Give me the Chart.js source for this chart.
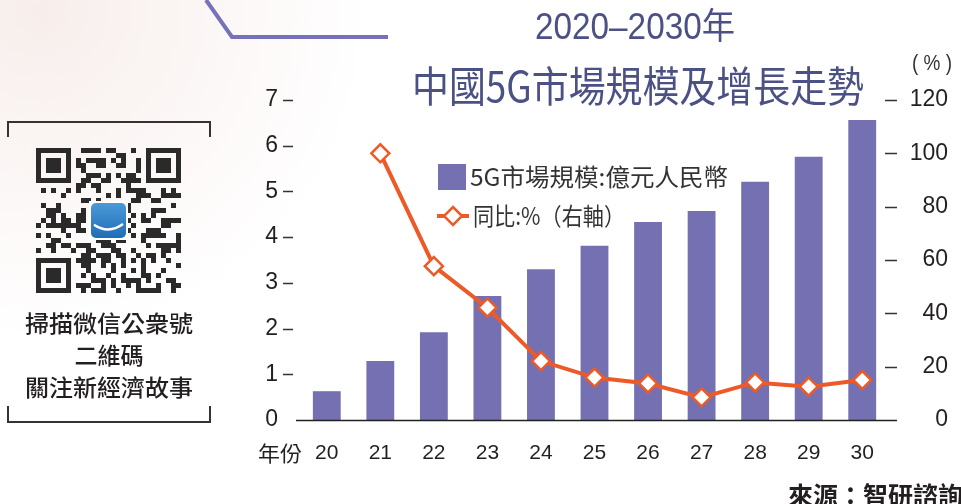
<!DOCTYPE html>
<html>
<head>
<meta charset="utf-8">
<script src="https://cdn.jsdelivr.net/npm/chart.js"></script>
<style>
html, body { margin: 0; padding: 0; background: #fff; }
#wrap { position: relative; width: 961px; height: 504px; }
</style>
</head>
<body>
<div id="wrap"><canvas id="grafico5G" width="961" height="504"></canvas></div>
<script>
// datos
const anios = ['20', '21', '22', '23', '24', '25', '26', '27', '28', '29', '30'];
const mercado5G = [0.63, 1.29, 1.92, 2.71, 3.30, 3.81, 4.33, 4.57, 5.21, 5.76, 6.56];
const crecimiento = [null, 100, 57.7, 42.1, 22.1, 15.9, 13.7, 8.5, 14.1, 12.5, 15.0];
const etiquetaBarras = '5G市場規模:億元人民幣';
const etiquetaLinea = '同比:%（右軸）';

const colorBarra = '#7470b2';
const colorLinea = '#ee5a27';
const colorTitulo = '#4b5184';
const colorTexto = '#231f20';
const fuenteCJK = "'Noto Sans CJK TC', 'Noto Sans CJK SC', sans-serif";

function texto(ctx, str, x, y, font, color, ancho, align) {
    ctx.save();
    ctx.font = font;
    ctx.fillStyle = color;
    ctx.textBaseline = 'middle';
    ctx.textAlign = align || 'left';
    const w = ctx.measureText(str).width;
    const sx = ancho ? ancho / w : 1;
    ctx.translate(x, y);
    ctx.scale(sx, 1);
    ctx.fillText(str, 0, 0);
    ctx.restore();
}

function dibujarQR(ctx, x0, y0, m) {
    const n = 29;
    const finder = (i, j, oi, oj) => {
        const a = i - oi, b = j - oj;
        if (a < 0 || b < 0 || a > 6 || b > 6) return null;
        const d = Math.max(Math.abs(a - 3), Math.abs(b - 3));
        return d !== 2;
    };
    ctx.fillStyle = '#2a2a2a';
    for (let i = 0; i < n; i++) {
        for (let j = 0; j < n; j++) {
            let on = finder(i, j, 0, 0);
            if (on === null) on = finder(i, j, 22, 0);
            if (on === null) on = finder(i, j, 0, 22);
            if (on === null) {
                if ((i === 7 || j === 7) && (i < 8 && j < 8)) on = false;
                else if ((i === 21 && j < 8) || (j === 21 && i < 8) || (i === 7 && j > 21) || (j === 7 && i > 21)) on = false;
                else {
                    const h = (Math.imul(i + 3, 73856093) ^ Math.imul(j + 7, 19349663)) >>> 0;
                    on = ((h >>> 9) % 5) < 2;
                }
            }
            if (on) ctx.fillRect(x0 + j * m, y0 + i * m, m, m);
        }
    }
    // logo central
    const lx = x0 + 11 * m, ly = y0 + 11 * m, ls = 7 * m;
    ctx.fillStyle = '#fff';
    ctx.fillRect(lx - 2, ly - 2, ls + 4, ls + 4);
    const g = ctx.createLinearGradient(lx, ly, lx, ly + ls);
    g.addColorStop(0, '#4a9ad8');
    g.addColorStop(1, '#1f6db5');
    ctx.fillStyle = g;
    ctx.beginPath();
    ctx.roundRect(lx, ly, ls, ls, 5);
    ctx.fill();
    ctx.strokeStyle = '#fff';
    ctx.lineWidth = 2.5;
    ctx.beginPath();
    ctx.moveTo(lx + 3, ly + ls * 0.62);
    ctx.quadraticCurveTo(lx + ls * 0.5, ly + ls * 0.9, lx + ls - 3, ly + ls * 0.6);
    ctx.stroke();
}

const decoracion = {
    id: 'decoracion',
    beforeDraw(chart) {
        const ctx = chart.ctx;
        ctx.save();
        const fondo = ctx.createRadialGradient(40, 10, 0, 40, 10, 330);
        fondo.addColorStop(0, 'rgba(247,238,235,1)');
        fondo.addColorStop(1, 'rgba(255,255,255,1)');
        ctx.fillStyle = fondo;
        ctx.fillRect(0, 0, chart.width, chart.height);

        // linea morada superior
        ctx.strokeStyle = '#7671b8';
        ctx.lineWidth = 4;
        ctx.beginPath();
        ctx.moveTo(206, 0);
        ctx.lineTo(232, 37);
        ctx.lineTo(388, 37);
        ctx.stroke();

        // recuadro del codigo QR
        ctx.strokeStyle = '#333';
        ctx.lineWidth = 2;
        ctx.beginPath();
        ctx.moveTo(8, 137); ctx.lineTo(8, 122); ctx.lineTo(210, 122); ctx.lineTo(210, 137);
        ctx.moveTo(8, 406); ctx.lineTo(8, 422); ctx.lineTo(210, 422); ctx.lineTo(210, 406);
        ctx.stroke();
        dibujarQR(ctx, 36, 148, 5);
        ctx.restore();

        texto(ctx, '掃描微信公衆號', 109, 323, '500 23px ' + fuenteCJK, colorTexto, 168, 'center');
        texto(ctx, '二維碼', 109, 355, '500 23px ' + fuenteCJK, colorTexto, 0, 'center');
        texto(ctx, '關注新經濟故事', 109, 387, '500 23px ' + fuenteCJK, colorTexto, 168, 'center');
    },
    afterDraw(chart) {
        const ctx = chart.ctx;
        const area = chart.chartArea;
        const yIzq = chart.scales.y;
        const yDer = chart.scales.y1;

        ctx.save();
        ctx.strokeStyle = '#333';
        ctx.lineWidth = 1.3;
        ctx.beginPath();
        yIzq.ticks.forEach(t => {
            const py = Math.round(yIzq.getPixelForValue(t.value)) + 0.5;
            if (t.value > 0) { ctx.moveTo(283, py); ctx.lineTo(293, py); }
        });
        yDer.ticks.forEach(t => {
            const py = Math.round(yDer.getPixelForValue(t.value)) + 0.5;
            if (t.value > 0) { ctx.moveTo(885, py); ctx.lineTo(897, py); }
        });
        ctx.stroke();

        // eje x
        ctx.strokeStyle = '#222';
        ctx.lineWidth = 1.5;
        ctx.beginPath();
        ctx.moveTo(296, area.bottom + 0.5);
        ctx.lineTo(897, area.bottom + 0.5);
        ctx.stroke();
        ctx.restore();

        // titulo
        texto(ctx, '2020–2030年', 635, 29, "36px 'Liberation Sans', " + fuenteCJK, colorTitulo, 200, 'center');
        texto(ctx, '中國5G市場規模及增長走勢', 638, 86, '42px ' + fuenteCJK, colorTitulo, 452, 'center');
        texto(ctx, '( % )', 932, 64, "22px 'Liberation Sans', sans-serif", '#333', 40, 'center');
        texto(ctx, '年份', 258, 453, '21px ' + fuenteCJK, colorTexto, 44, 'left');

        // leyenda
        ctx.save();
        ctx.fillStyle = colorBarra;
        ctx.fillRect(438, 164, 28, 26);
        ctx.strokeStyle = colorLinea;
        ctx.lineWidth = 4;
        ctx.beginPath();
        ctx.moveTo(437, 216);
        ctx.lineTo(469, 216);
        ctx.stroke();
        ctx.fillStyle = '#fff';
        ctx.lineWidth = 2.5;
        ctx.beginPath();
        ctx.moveTo(453, 207); ctx.lineTo(462, 216); ctx.lineTo(453, 225); ctx.lineTo(444, 216);
        ctx.closePath();
        ctx.fill();
        ctx.stroke();
        ctx.restore();
        texto(ctx, chart.data.datasets[1].label, 470, 177, '24px ' + fuenteCJK, '#333', 258, 'left');
        texto(ctx, chart.data.datasets[0].label, 473, 216, '24px ' + fuenteCJK, '#333', 152, 'left');

        // fuente
        texto(ctx, '來源：智研諮詢', 788, 495, 'bold 25px ' + fuenteCJK, colorTexto, 0, 'left');
    }
};

document.addEventListener('DOMContentLoaded', function () {
    const ctx = document.getElementById('grafico5G').getContext('2d');
    new Chart(ctx, {
        data: {
            labels: anios,
            datasets: [
                {
                    type: 'line',
                    label: etiquetaLinea,
                    data: crecimiento,
                    yAxisID: 'y1',
                    borderColor: colorLinea,
                    borderWidth: 4,
                    tension: 0,
                    pointStyle: 'rectRot',
                    pointRadius: 9,
                    pointBorderWidth: 2.5,
                    pointBackgroundColor: '#fff',
                    pointBorderColor: colorLinea,
                    order: 1
                },
                {
                    type: 'bar',
                    label: etiquetaBarras,
                    data: mercado5G,
                    yAxisID: 'y',
                    backgroundColor: colorBarra,
                    barPercentage: 0.52,
                    categoryPercentage: 1,
                    order: 2
                }
            ]
        },
        options: {
            responsive: false,
            devicePixelRatio: 1,
            animation: false,
            layout: { padding: { left: 0, right: 13, top: 100, bottom: 0 } },
            plugins: {
                legend: { display: false },
                tooltip: { enabled: false }
            },
            scales: {
                x: {
                    offset: true,
                    grid: { display: false, drawTicks: false },
                    border: { display: false },
                    ticks: {
                        color: colorTexto,
                        font: { family: "'Liberation Sans', sans-serif", size: 21 },
                        padding: 21,
                        maxRotation: 0
                    },
                    afterFit(scale) { scale.height = 84; }
                },
                y: {
                    position: 'left',
                    min: 0,
                    max: 7,
                    grid: { display: false, drawTicks: false },
                    border: { display: false },
                    ticks: {
                        stepSize: 1,
                        color: colorTexto,
                        font: { family: "'Liberation Sans', sans-serif", size: 23 },
                        padding: 22
                    },
                    afterFit(scale) { scale.width = 300; }
                },
                y1: {
                    position: 'right',
                    min: 0,
                    max: 120,
                    grid: { display: false, drawTicks: false },
                    border: { display: false },
                    ticks: {
                        stepSize: 20,
                        color: colorTexto,
                        crossAlign: 'far',
                        font: { family: "'Liberation Sans', sans-serif", size: 23 }
                    },
                    afterFit(scale) { scale.width = 59; }
                }
            }
        },
        plugins: [decoracion]
    });
});
</script>
</body>
</html>
